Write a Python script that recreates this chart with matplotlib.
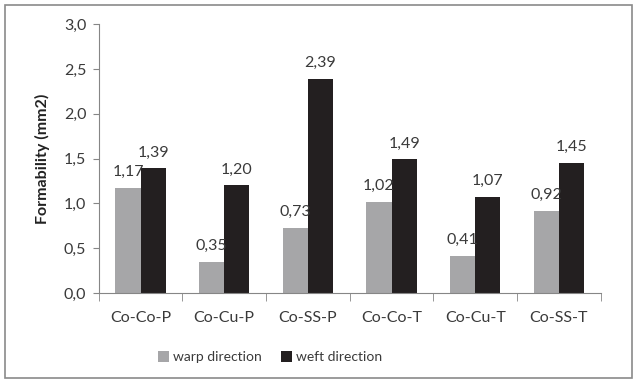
import numpy as np
import matplotlib
matplotlib.use("Agg")
import matplotlib.pyplot as plt
from matplotlib.patches import Rectangle

plt.rcParams['font.family'] = ['Lato', 'DejaVu Sans']

categories = ["Co-Co-P", "Co-Cu-P", "Co-SS-P", "Co-Co-T", "Co-Cu-T", "Co-SS-T"]
warp = [1.17, 0.35, 0.73, 1.02, 0.41, 0.92]
weft = [1.39, 1.20, 2.39, 1.49, 1.07, 1.45]
yticks = [0.0, 0.5, 1.0, 1.5, 2.0, 2.5, 3.0]

WARP_C = "#a6a6a8"
WEFT_C = "#231f20"
AXIS_C = "#868686"
TEXT_C = "#3a3a3a"
FS = 11.5


def fmt(v, nd):
    return f"{v:.{nd}f}".replace(".", ",")


fig = plt.figure(figsize=(6.37, 3.83), dpi=100)
ax = fig.add_axes([0.155, 0.235, 0.788, 0.702])

x = np.arange(len(categories))
w = 0.3
b1 = ax.bar(x - w / 2, warp, w, color=WARP_C, label="warp direction")
b2 = ax.bar(x + w / 2, weft, w, color=WEFT_C, label="weft direction")

for bars, vals in ((b1, warp), (b2, weft)):
    for r, v in zip(bars, vals):
        ax.text(r.get_x() + r.get_width() / 2, v + 0.1, fmt(v, 2),
                ha="center", va="bottom", fontsize=FS, color=TEXT_C)

ax.set_xlim(-0.5, len(categories) - 0.5)
ax.set_ylim(0, 3.0)
ax.set_yticks(yticks)
ax.set_yticklabels([fmt(t, 1) for t in yticks], fontsize=FS, color=TEXT_C)
ax.set_xticks(x)
ax.set_xticklabels(categories, fontsize=FS, color=TEXT_C)
ax.tick_params(axis="x", length=0, pad=13)
ax.tick_params(axis="y", length=4, color=AXIS_C, pad=5)
# category separators below the axis
ax.set_xticks(np.arange(-0.5, len(categories)), minor=True)
ax.tick_params(axis="x", which="minor", length=6, color=AXIS_C)

for s in ("top", "right"):
    ax.spines[s].set_visible(False)
for s in ("left", "bottom"):
    ax.spines[s].set_color(AXIS_C)

ax.set_ylabel("Formability (mm2)", fontsize=FS, fontweight="bold",
              color="#222222", labelpad=10)

fig.legend(handles=[b1, b2], loc="center", bbox_to_anchor=(0.424, 0.068),
           ncol=2, frameon=False, fontsize=10, handlelength=0.8,
           handleheight=0.8, handletextpad=0.3, columnspacing=1.4,
           labelcolor=TEXT_C)

fig.patches.append(Rectangle((0.008, 0.013), 0.984, 0.975,
                             transform=fig.transFigure, fill=False,
                             edgecolor="#8a8a8a", linewidth=1.2))

fig.savefig("out.png", dpi=100)
